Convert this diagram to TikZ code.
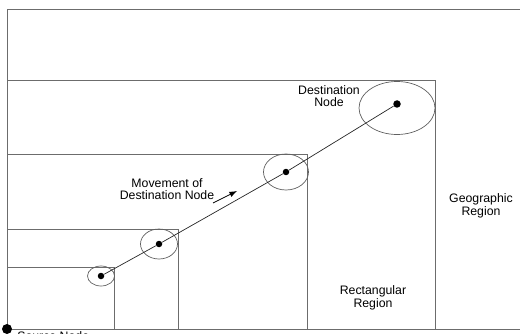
\documentclass[tikz,border=0pt]{standalone}
\usepackage{fontspec}
\setmainfont{Liberation Sans}
\usetikzlibrary{positioning}

\begin{document}
\begin{tikzpicture}[x=0.02cm, y=-0.02cm]
    \tikzset{region/.style={draw=gray!85!black, line width=0.5pt},
      spot/.style={circle, fill=black, inner sep=0pt, minimum size=0.13cm},
      coverage/.style={draw=gray!75!black, line width=0.4pt},
      lbl/.style={font=\fontsize{7}{7.2}\selectfont, align=center, inner sep=0pt}
    }
    \useasboundingbox (0,0) rectangle (520,334);

    % regions
    \draw[region] (7,329) rectangle (530,9);
    \draw[region] (7,329) rectangle (435,80);
    \draw[region] (7,329) rectangle (307,154);
    \draw[region] (7,329) rectangle (178,229);
    \draw[region] (7,329) rectangle (114,267);

    \node[spot] (p1) at (101,276) {};
    \node[spot] (p2) at (159,244) {};
    \node[spot] (p3) at (286,172) {};
    \node[spot, minimum size=0.15cm] (p4) at (397,104) {};

    \draw[coverage] (p1) ellipse (13.5 and 10);
    \draw[coverage] (p2) ellipse (18.5 and 15);
    \draw[coverage] (p3) ellipse (22.5 and 18);
    \draw[coverage] (397,108) ellipse (38 and 26.5);

    \draw[gray!30!black, line width=0.4pt] (p1) -- (p2) -- (p3) -- (p4);

    \coordinate (m1) at (213,203);
    \coordinate (m2) at (237,191);
    \draw[-latex, line width=0.5pt] (m1) -- (m2);

    \node[spot, minimum size=0.2cm] (src) at (7,329) {};
    \node[lbl, anchor=north west] (srclbl) at (17,331) {Source Node};

    \node[lbl] (dest) at (329,96) {Destination\\Node};
    \node[lbl] (move) at (167,189) {Movement of\\Destination Node};
    \node[lbl] (geo) at (481,206) {Geographic\\Region};
    \node[lbl] (rect) at (373,298) {Rectangular\\Region};
\end{tikzpicture}
\end{document}
